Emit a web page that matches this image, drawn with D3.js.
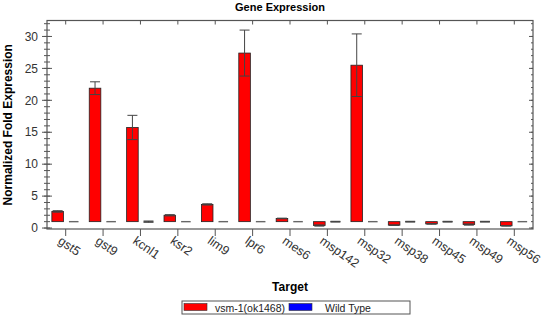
<!DOCTYPE html>
<html>
<head>
<meta charset="utf-8">
<script src="https://cdn.jsdelivr.net/npm/d3@7"></script>
<style>
  body { margin: 0; background: #fff; }
  text { font-family: "Liberation Sans", Arial, sans-serif; }
</style>
</head>
<body>
<div id="chart"></div>
<script>
// values
const categories = ["gst5", "gst9", "kcnl1", "ksr2", "lim9", "lpr6", "mes6", "msp142", "msp32", "msp38", "msp45", "msp49", "msp56"];
const vsmValues = [2.6, 21.9, 15.75, 2.0, 3.7, 27.4, 1.5, 0.4, 25.5, 0.45, 0.65, 0.55, 0.35];
const vsmErrors = [0.12, 1.0, 1.9, 0.1, 0.1, 3.6, 0.05, 0.1, 4.9, 0.05, 0.05, 0.1, 0.05];
const wtValues = [1, 1, 1, 1, 1, 1, 1, 1, 1, 1, 1, 1, 1];
const wtErrors = [0, 0, 0.1, 0, 0, 0, 0, 0.05, 0, 0.05, 0.05, 0.05, 0];
const seriesNames = ["vsm-1(ok1468)", "Wild Type"];
const seriesColors = ["#ff0000", "#0000ff"];
const yTicks = [0, 5, 10, 15, 20, 25, 30];

(function () {
    let width = 550, height = 315;
    let left = 47, right = 533, top = 20.5, bottom = 229;
    let svg = d3.select("#chart")
        .append("svg")
        .attr("width", width)
        .attr("height", height);

    let x0 = d3.scaleBand()
        .domain(categories)
        .range([left, right])
        .paddingInner(0.26)
        .paddingOuter(0.13);
    let x1 = d3.scaleBand()
        .domain([0, 1])
        .range([0, x0.bandwidth()])
        .paddingInner(0.28);
    let y = d3.scaleLinear()
        .domain([-0.15, 32.5])
        .range([bottom, top]);

    let axisColor = "#555";
    let minorTicks = d3.range(0, 33, 1);

    // frame
    svg.append("rect")
        .attr("x", left).attr("y", top)
        .attr("width", right - left).attr("height", bottom - top)
        .attr("fill", "none").attr("stroke", axisColor).attr("stroke-width", 1.2);

    // left axis: ticks cross the line
    let gl = svg.append("g");
    gl.selectAll(".minor").data(minorTicks).enter().append("line")
        .attr("x1", left - 3).attr("x2", left + 3)
        .attr("y1", d => y(d)).attr("y2", d => y(d))
        .attr("stroke", axisColor);
    gl.selectAll(".major").data(yTicks).enter().append("line")
        .attr("x1", left - 5).attr("x2", left + 5)
        .attr("y1", d => y(d)).attr("y2", d => y(d))
        .attr("stroke", axisColor);
    gl.selectAll("text").data(yTicks).enter().append("text")
        .attr("x", left - 9).attr("y", d => y(d))
        .attr("dy", "0.35em")
        .attr("text-anchor", "end")
        .attr("font-size", "12px")
        .attr("fill", "#333")
        .text(d => d);

    // right axis: inward ticks
    let gr = svg.append("g");
    gr.selectAll(".minor").data(minorTicks).enter().append("line")
        .attr("x1", right - 2).attr("x2", right)
        .attr("y1", d => y(d)).attr("y2", d => y(d))
        .attr("stroke", axisColor);
    gr.selectAll(".major").data(yTicks).enter().append("line")
        .attr("x1", right - 4).attr("x2", right)
        .attr("y1", d => y(d)).attr("y2", d => y(d))
        .attr("stroke", axisColor);

    // top ticks inward, bottom ticks outward
    let centers = categories.map(c => x0(c) + x0.bandwidth() / 2);
    svg.append("g").selectAll("line").data(centers).enter().append("line")
        .attr("x1", d => d).attr("x2", d => d)
        .attr("y1", top).attr("y2", top + 4)
        .attr("stroke", axisColor);
    svg.append("g").selectAll("line").data(centers).enter().append("line")
        .attr("x1", d => d).attr("x2", d => d)
        .attr("y1", bottom).attr("y2", bottom + 7)
        .attr("stroke", axisColor);

    // category labels
    svg.append("g").selectAll("text").data(categories).enter().append("text")
        .attr("transform", d => `translate(${x0(d) + x0.bandwidth() / 2 - 3},${bottom + 6}) rotate(35)`)
        .attr("dy", "0.75em")
        .attr("font-size", "12.5px")
        .attr("fill", "#333")
        .text(d => d);

    // bars from baseline 1
    let series = [
        { values: vsmValues, errors: vsmErrors },
        { values: wtValues, errors: wtErrors }
    ];
    series.forEach((s, si) => {
        let g = svg.append("g");
        let items = categories.map((c, i) => ({ c: c, v: s.values[i], e: s.errors[i] }));
        g.selectAll("rect").data(items.filter(d => d.v !== 1)).enter().append("rect")
            .attr("x", d => x0(d.c) + x1(si))
            .attr("width", x1.bandwidth())
            .attr("y", d => Math.min(y(d.v), y(1)))
            .attr("height", d => Math.abs(y(d.v) - y(1)))
            .attr("fill", seriesColors[si])
            .attr("stroke", "#222")
            .attr("stroke-width", 0.8);
        // zero-height bars show only as a flat outline
        g.selectAll(".flat").data(items.filter(d => d.v === 1)).enter().append("line")
            .attr("x1", d => x0(d.c) + x1(si) + 1)
            .attr("x2", d => x0(d.c) + x1(si) + x1.bandwidth() - 1)
            .attr("y1", y(1)).attr("y2", y(1))
            .attr("stroke", "#666")
            .attr("stroke-width", 1.4);
        let eb = g.selectAll(".err").data(items.filter(d => d.e > 0)).enter().append("g");
        let cx = d => x0(d.c) + x1(si) + x1.bandwidth() / 2;
        eb.append("line")
            .attr("x1", cx).attr("x2", cx)
            .attr("y1", d => y(d.v - d.e)).attr("y2", d => y(d.v + d.e))
            .attr("stroke", "#444");
        eb.append("line")
            .attr("x1", d => cx(d) - 5).attr("x2", d => cx(d) + 5)
            .attr("y1", d => y(d.v + d.e)).attr("y2", d => y(d.v + d.e))
            .attr("stroke", "#444");
        eb.append("line")
            .attr("x1", d => cx(d) - 5).attr("x2", d => cx(d) + 5)
            .attr("y1", d => y(d.v - d.e)).attr("y2", d => y(d.v - d.e))
            .attr("stroke", "#444");
    });

    // titles
    svg.append("text")
        .attr("x", 280).attr("y", 11)
        .attr("text-anchor", "middle")
        .attr("font-size", "11px").attr("font-weight", "bold")
        .text("Gene Expression");
    svg.append("text")
        .attr("transform", `translate(12,${(top + bottom) / 2}) rotate(-90)`)
        .attr("text-anchor", "middle")
        .attr("font-size", "12px").attr("font-weight", "bold")
        .text("Normalized Fold Expression");
    svg.append("text")
        .attr("x", 290).attr("y", 291)
        .attr("text-anchor", "middle")
        .attr("font-size", "12px").attr("font-weight", "bold")
        .text("Target");

    // legend
    let lg = svg.append("g");
    lg.append("rect")
        .attr("x", 182).attr("y", 301).attr("width", 228).attr("height", 13)
        .attr("fill", "#fff").attr("stroke", "#555");
    let lx = [184, 289];
    seriesNames.forEach((n, i) => {
        lg.append("rect")
            .attr("x", lx[i]).attr("y", 303.5).attr("width", 23).attr("height", 7)
            .attr("fill", seriesColors[i]).attr("stroke", "#333").attr("stroke-width", 0.6);
        lg.append("text")
            .attr("x", lx[i] + (i === 0 ? 31 : 36)).attr("y", 311.5)
            .attr("font-size", "10.5px")
            .attr("fill", "#222")
            .text(n);
    });
})();
</script>
</body>
</html>
